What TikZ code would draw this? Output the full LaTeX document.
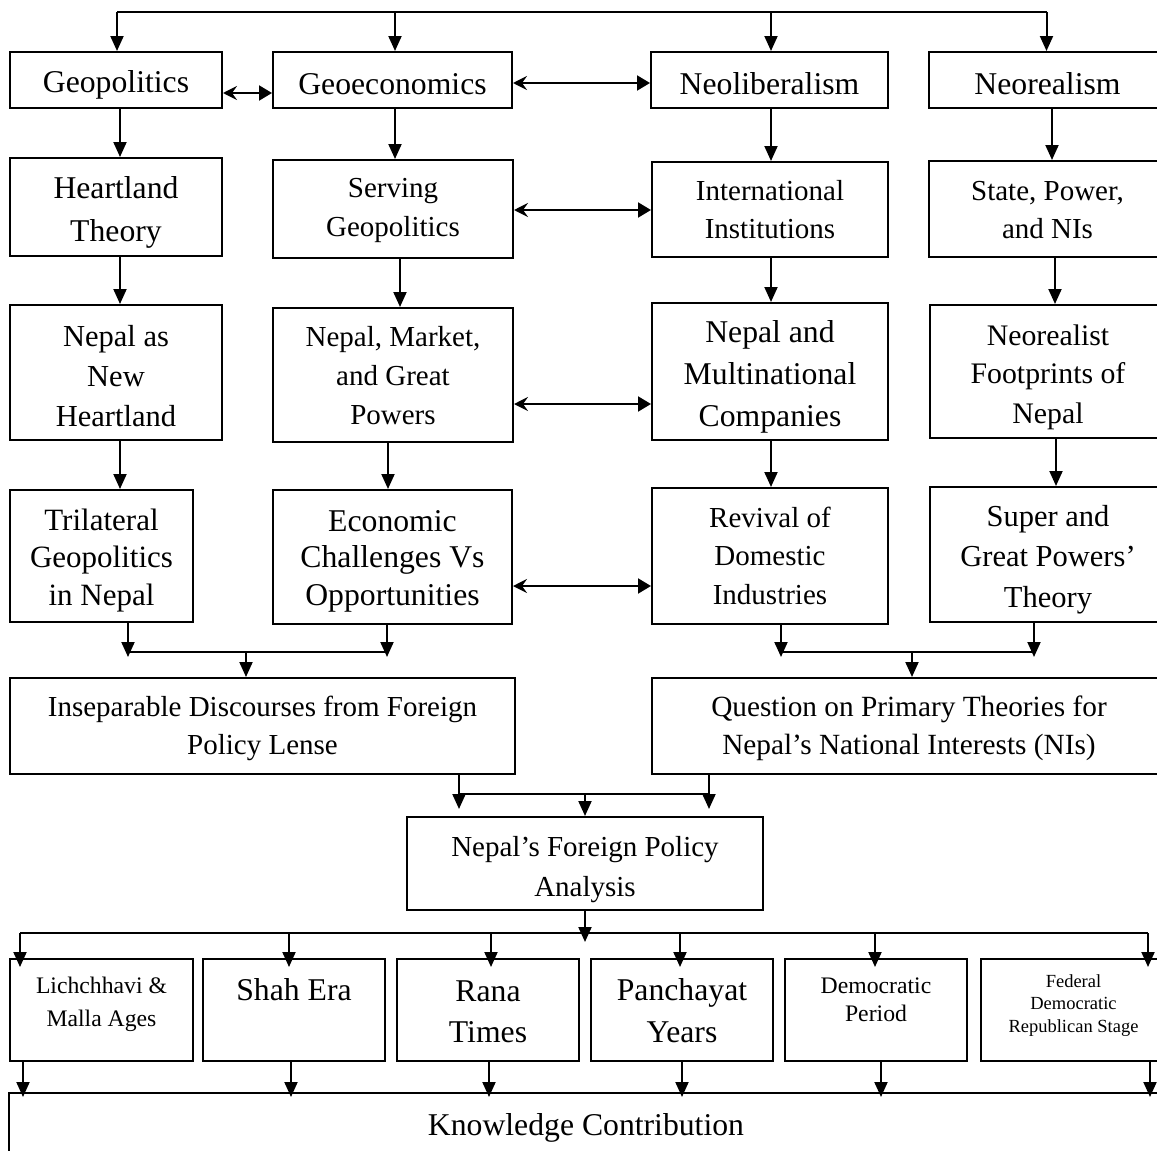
\documentclass[tikz,border=0pt]{standalone}
\usepackage{fontspec}
\setmainfont{Liberation Serif}
\usetikzlibrary{arrows.meta}
\newcommand\fsz[2]{\fontsize{#1}{#2}\selectfont}
% invisible rule that fixes the height of the first line and the depth of the last;
% \tdown adds extra room above, which lowers the text inside its box
\newlength\tdown
\newcommand\ls{\rule[-0.1em]{0pt}{\dimexpr1em+2\tdown\relax}}
\begin{document}
\begin{tikzpicture}[x=1pt,y=-1pt,
  tdown/.code={\setlength\tdown{#1}},
  conn/.style={line width=2pt},
  arr/.style={conn,-{Triangle[length=15pt,width=13pt]}},
  dbl/.style={conn,{Stealth[length=14pt,width=14pt,inset=5pt]}-{Triangle[length=13pt,width=15pt]}},
  box/.style={draw,line width=2pt,align=center,inner sep=0pt,tdown=0pt},
  lbl/.style={align=center,inner sep=0pt,tdown=0pt,
    execute at begin node=\ls,execute at end node=\ls}]
\clip (0,0) rectangle (1157,1151);

% ---- theories ----
\node[box,tdown=2pt,minimum width=212pt,minimum height=56pt,font=\fsz{31.7}{43}] (geopol) at (116,80) {\ls Geopolitics\ls};
\node[box,tdown=2pt,minimum width=239pt,minimum height=56pt,font=\fsz{31.7}{43}] (geoecon) at (392.5,80) {\ls Geoeconomics\ls};
\node[box,tdown=2pt,minimum width=237pt,minimum height=56pt,font=\fsz{31.7}{43}] (neolib) at (769.5,80) {\ls Neoliberalism\ls};
\node[box,tdown=2pt,minimum width=237pt,minimum height=56pt,font=\fsz{31.7}{43}] (neoreal) at (1047.5,80) {\ls Neorealism\ls};

% ---- second row ----
\node[box,tdown=1.7pt,minimum width=212pt,minimum height=98pt,font=\fsz{31.7}{43}] (heart) at (116,207) {\ls Heartland\\Theory\ls};
\node[box,tdown=-2pt,minimum width=240pt,minimum height=98pt,font=\fsz{29}{39}] (serving) at (393,209) {\ls Serving\\Geopolitics\ls};
\node[box,tdown=-2pt,minimum width=236pt,minimum height=95pt,font=\fsz{29}{38}] (intl) at (770,209.5) {\ls International\\Institutions\ls};
\node[box,tdown=-1pt,minimum width=237pt,minimum height=96pt,font=\fsz{29}{38}] (state) at (1047.5,209) {\ls State, Power,\\and NIs\ls};

% ---- third row ----
\node[box,tdown=1.8pt,minimum width=212pt,minimum height=135pt,font=\fsz{30.5}{40}] (newheart) at (116,372.5) {\ls Nepal as\\New\\Heartland\ls};
\node[box,tdown=-1.5pt,minimum width=240pt,minimum height=134pt,font=\fsz{29}{39}] (market) at (393,375) {\ls Nepal, Market,\\and Great\\Powers\ls};
\node[box,tdown=1.7pt,minimum width=236pt,minimum height=137pt,font=\fsz{31.7}{42}] (mnc) at (770,371.5) {\ls Nepal and\\Multinational\\Companies\ls};
\node[box,tdown=3pt,minimum width=236pt,minimum height=133pt,font=\fsz{29.8}{38}] (footprint) at (1048,371.5) {\ls Neorealist\\Footprints of\\Nepal\ls};

% ---- fourth row ----
\node[box,tdown=1.3pt,minimum width=183pt,minimum height=132pt,font=\fsz{31}{36.5}] (trilat) at (101.5,556) {\ls Trilateral\\Geopolitics\\in Nepal\ls};
\node[box,tdown=0.7pt,minimum width=239pt,minimum height=134pt,font=\fsz{31.7}{36.5}] (econ) at (392.5,557) {\ls Economic\\Challenges Vs\\Opportunities\ls};
\node[box,tdown=-2pt,minimum width=236pt,minimum height=136pt,font=\fsz{29}{38.5}] (revival) at (770,556) {\ls Revival of\\Domestic\\Industries\ls};
\node[box,tdown=1.8pt,minimum width=236pt,minimum height=135pt,font=\fsz{30.5}{40.5}] (super) at (1048,554.5) {\ls Super and\\Great Powers’\\Theory\ls};

% ---- syntheses ----
\node[box,tdown=-0.5pt,minimum width=505pt,minimum height=96pt,font=\fsz{29}{38}] (insep) at (262.5,726) {\ls Inseparable Discourses from Foreign\\Policy Lense\ls};
\node[box,tdown=-0.5pt,minimum width=514pt,minimum height=96pt,font=\fsz{29.3}{38}] (question) at (909,726) {\ls Question on Primary Theories for\\Nepal’s National Interests (NIs)\ls};
\node[box,tdown=3pt,minimum width=356pt,minimum height=93pt,font=\fsz{29}{38}] (fp) at (585,863.5) {\ls Nepal’s Foreign Policy\\Analysis\ls};

% ---- historical periods ----
\node[box,minimum width=183pt,minimum height=102pt] (lich) at (101.5,1010) {};
\node[box,minimum width=182.5pt,minimum height=102pt] (shah) at (294,1010) {};
\node[box,tdown=-0.8pt,minimum width=182pt,minimum height=102pt,font=\fsz{31.7}{41.7}] (rana) at (488,1010) {\ls Rana\\Times\ls};
\node[box,tdown=-1.3pt,minimum width=182pt,minimum height=102pt,font=\fsz{31.7}{41.7}] (panch) at (682,1010) {\ls Panchayat\\Years\ls};
\node[box,minimum width=182pt,minimum height=102pt] (demo) at (876,1010) {};
\node[box,minimum width=185pt,minimum height=102pt] (fed) at (1073.5,1010) {};
\node[lbl,font=\fsz{23.7}{33}] (lich-t) at ([yshift=6pt]lich.center) {Lichchhavi \&\\Malla Ages};
\node[lbl,font=\fsz{31.7}{43}] (shah-t) at ([yshift=22pt]shah.center) {Shah Era};
\node[lbl,font=\fsz{23.7}{28}] (demo-t) at ([yshift=8.7pt]demo.center) {Democratic\\Period};
\node[lbl,font=\fsz{18.5}{22.5}] (fed-t) at ([yshift=4.8pt]fed.center) {Federal\\Democratic\\Republican Stage};

% ---- outcome ----
\node[box,minimum width=1157pt,minimum height=107pt] (know) at (587.5,1146.5) {};
\node[lbl,font=\fsz{31.7}{43}] (know-t) at (586,1125) {Knowledge Contribution};

% ---- top distribution bus ----
\coordinate (top) at (0,12);
\coordinate (t1) at ([xshift=1pt]geopol.north);
\coordinate (t2) at ([xshift=2.5pt]geoecon.north);
\coordinate (t3) at ([xshift=1.5pt]neolib.north);
\coordinate (t4) at ([xshift=-1pt]neoreal.north);
\draw[conn] (t1 |- top) -- (t4 |- top);
\foreach \c in {t1,t2,t3,t4} \draw[arr] (\c |- top) -- (\c);

% ---- links between neighbouring theories ----
\draw[dbl] ([yshift=-13pt]geopol.east) -- ([yshift=-13pt]geoecon.west);
\draw[dbl] ([yshift=-3pt]geoecon.east) -- ([yshift=-3pt]neolib.west);
\draw[dbl] ([yshift=-1pt]serving.east) -- ([yshift=-1pt]serving.east -| intl.west);
\draw[dbl] ([yshift=-29pt]market.east) -- ([yshift=-29pt]market.east -| mnc.west);
\draw[dbl] ([yshift=-29pt]econ.east) -- ([yshift=-29pt]econ.east -| revival.west);

% ---- column flows ----
\draw[arr] ([xshift=4pt]geopol.south) -- ([xshift=4pt]heart.north);
\draw[arr] ([xshift=4pt]heart.south) -- ([xshift=4pt]newheart.north);
\draw[arr] ([xshift=4pt]newheart.south) -- ([xshift=4pt]newheart.south |- trilat.north);
\draw[arr] ([xshift=2.5pt]geoecon.south) -- ([xshift=2.5pt]geoecon.south |- serving.north);
\draw[arr] ([xshift=7pt]serving.south) -- ([xshift=7pt]market.north);
\draw[arr] ([xshift=-5pt]market.south) -- ([xshift=-5pt]market.south |- econ.north);
\draw[arr] ([xshift=1.5pt]neolib.south) -- ([xshift=1.5pt]neolib.south |- intl.north);
\draw[arr] ([xshift=1pt]intl.south) -- ([xshift=1pt]mnc.north);
\draw[arr] ([xshift=1pt]mnc.south) -- ([xshift=1pt]mnc.south |- revival.north);
\draw[arr] ([xshift=4.5pt]neoreal.south) -- ([xshift=4.5pt]neoreal.south |- state.north);
\draw[arr] ([xshift=7.5pt]state.south) -- ([xshift=7.5pt]state.south |- footprint.north);
\draw[arr] ([xshift=8pt]footprint.south) -- ([xshift=8pt]footprint.south |- super.north);

% ---- merging into the two syntheses ----
\coordinate (busA) at (0,652);
\coordinate (tipA) at (0,657);
\coordinate (a1) at ([xshift=26.5pt]trilat.south);
\coordinate (a2) at ([xshift=-5.5pt]econ.south);
\coordinate (a3) at ([xshift=-16.5pt]insep.north);
\draw[arr] (a1) -- (a1 |- tipA);
\draw[arr] (a2) -- (a2 |- tipA);
\draw[conn] (a1 |- busA) -- (a2 |- busA);
\draw[arr] (a3 |- busA) -- (a3);
\coordinate (a4) at ([xshift=11pt]revival.south);
\coordinate (a5) at ([xshift=-14pt]super.south);
\coordinate (a6) at ([xshift=3pt]question.north);
\draw[arr] (a4) -- (a4 |- tipA);
\draw[arr] (a5) -- (a5 |- tipA);
\draw[conn] (a4 |- busA) -- (a5 |- busA);
\draw[arr] (a6 |- busA) -- (a6);

% ---- into the foreign policy analysis ----
\coordinate (busB) at (0,794);
\coordinate (tipB) at (0,809);
\coordinate (b1) at ([xshift=196.5pt]insep.south);
\coordinate (b2) at ([xshift=-200pt]question.south);
\draw[arr] (b1) -- (b1 |- tipB);
\draw[arr] (b2) -- (b2 |- tipB);
\draw[conn] (b1 |- busB) -- (b2 |- busB);
\draw[arr] (fp.north |- busB) -- (fp.north);

% ---- out to the historical periods ----
\coordinate (busC) at (0,933);
\coordinate (tipC) at (0,967);
\coordinate (tipF) at (0,942);
\draw[arr] (fp.south) -- (fp.south |- tipF);
\coordinate (c1) at ([xshift=-81.5pt]lich.north);
\coordinate (c2) at ([xshift=-5pt]shah.north);
\coordinate (c3) at ([xshift=3pt]rana.north);
\coordinate (c4) at ([xshift=-2pt]panch.north);
\coordinate (c5) at ([xshift=-1pt]demo.north);
\coordinate (c6) at ([xshift=74.5pt]fed.north);
\draw[conn] (c1 |- busC) -- (c6 |- busC);
\foreach \c in {c1,c2,c3,c4,c5,c6} \draw[arr] (\c |- busC) -- (\c |- tipC);

% ---- into the knowledge contribution ----
\coordinate (tipD) at (0,1097);
\coordinate (d1) at ([xshift=-78.5pt]lich.south);
\coordinate (d2) at ([xshift=-3pt]shah.south);
\coordinate (d3) at ([xshift=1pt]rana.south);
\coordinate (d4) at (panch.south);
\coordinate (d5) at ([xshift=5pt]demo.south);
\coordinate (d6) at ([xshift=76.5pt]fed.south);
\foreach \c in {d1,d2,d3,d4,d5,d6} \draw[arr] (\c) -- (\c |- tipD);
\end{tikzpicture}
\end{document}
